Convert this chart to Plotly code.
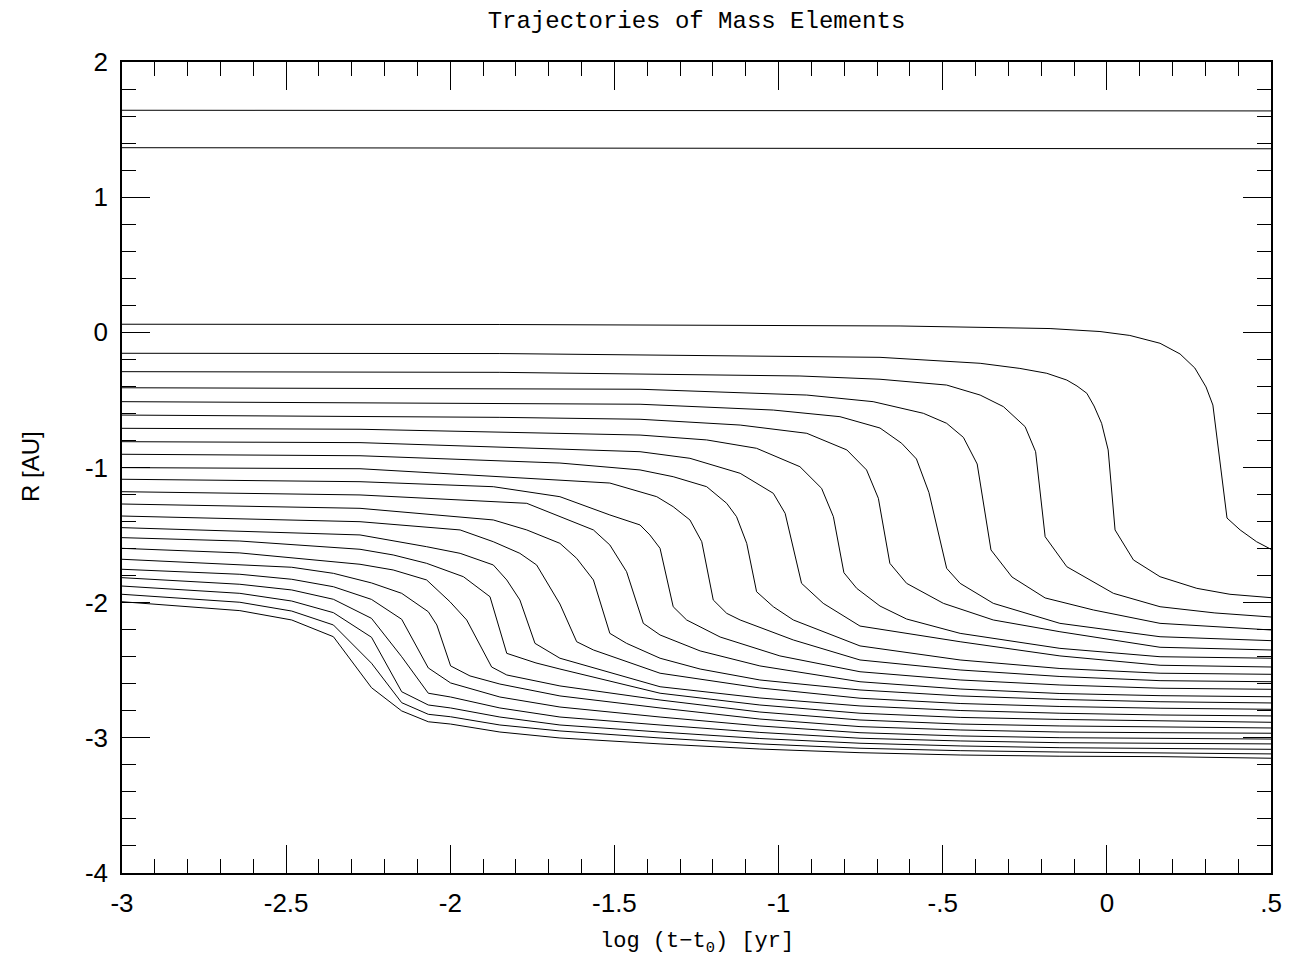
import plotly.graph_objects as go

# ---- horizontal (outer) mass elements ----
L1_t = [-3.0, 0.5]
L1_r = [1.643, 1.638]
L2_t = [-3.0, 0.5]
L2_r = [1.366, 1.358]

# ---- collapsing mass elements (log t, log R) ----
c1_t = [-3, -1.849, -0.63, -0.173, -0.021, 0.070, 0.162, 0.223, 0.268, 0.302, 0.323, 0.366, 0.406, 0.456, 0.5]
c1_r = [0.060, 0.058, 0.047, 0.028, 0.006, -0.023, -0.081, -0.160, -0.264, -0.404, -0.538, -1.374, -1.462, -1.549, -1.605]

c2_t = [-3, -1.849, -0.691, -0.386, -0.265, -0.183, -0.122, -0.091, -0.061, -0.039, -0.016, 0.004, 0.025, 0.081, 0.162, 0.274, 0.375, 0.5]
c2_r = [-0.155, -0.157, -0.185, -0.229, -0.267, -0.303, -0.353, -0.397, -0.451, -0.545, -0.673, -0.870, -1.462, -1.684, -1.808, -1.894, -1.938, -1.963]

c3_t = [-3, -1.849, -0.935, -0.691, -0.488, -0.386, -0.315, -0.249, -0.217, -0.188, -0.122, 0.020, 0.162, 0.329, 0.5]
c3_r = [-0.291, -0.296, -0.323, -0.347, -0.390, -0.464, -0.550, -0.698, -0.883, -1.512, -1.734, -1.931, -2.030, -2.076, -2.106]

c4_t = [-3, -1.849, -1.422, -0.914, -0.712, -0.559, -0.488, -0.437, -0.395, -0.353, -0.289, -0.188, -0.041, 0.162, 0.5]
c4_r = [-0.410, -0.414, -0.421, -0.464, -0.513, -0.599, -0.673, -0.777, -0.974, -1.610, -1.810, -1.965, -2.054, -2.153, -2.202]

c5_t = [-3, -1.849, -1.422, -1.016, -0.813, -0.691, -0.625, -0.580, -0.542, -0.488, -0.447, -0.346, -0.143, 0.162, 0.5]
c5_r = [-0.513, -0.525, -0.532, -0.575, -0.624, -0.708, -0.821, -0.937, -1.185, -1.746, -1.857, -2.005, -2.153, -2.252, -2.281]

c6_t = [-3, -1.849, -1.422, -1.117, -0.914, -0.792, -0.732, -0.696, -0.661, -0.610, -0.498, -0.346, -0.143, 0.162, 0.5]
c6_r = [-0.612, -0.629, -0.643, -0.686, -0.747, -0.870, -1.018, -1.228, -1.709, -1.857, -2.005, -2.128, -2.215, -2.330, -2.350]

c7_t = [-3, -2.275, -1.422, -1.219, -1.067, -0.935, -0.869, -0.833, -0.801, -0.762, -0.691, -0.610, -0.447, -0.143, 0.162, 0.5]
c7_r = [-0.710, -0.717, -0.760, -0.796, -0.858, -0.994, -1.154, -1.364, -1.778, -1.894, -2.025, -2.121, -2.227, -2.338, -2.400, -2.411]

c8_t = [-3, -2.275, -1.422, -1.270, -1.117, -1.016, -0.980, -0.930, -0.864, -0.792, -0.752, -0.447, -0.143, 0.162, 0.5]
c8_r = [-0.809, -0.816, -0.883, -0.932, -1.043, -1.191, -1.339, -1.857, -2.005, -2.116, -2.173, -2.289, -2.394, -2.463, -2.476]

c9_t = [-3, -2.275, -1.666, -1.422, -1.321, -1.219, -1.158, -1.128, -1.097, -1.067, -1.016, -0.955, -0.752, -0.447, -0.143, 0.162, 0.5]
c9_r = [-0.902, -0.913, -0.967, -1.018, -1.068, -1.142, -1.265, -1.364, -1.561, -1.919, -2.030, -2.128, -2.320, -2.424, -2.487, -2.522, -2.530]

c10_t = [-3, -2.275, -1.514, -1.422, -1.371, -1.321, -1.270, -1.234, -1.199, -1.158, -1.117, -0.955, -0.752, -0.447, -0.143, 0.162, 0.5]
c10_r = [-1.001, -1.009, -1.115, -1.179, -1.216, -1.290, -1.388, -1.549, -1.980, -2.079, -2.128, -2.276, -2.424, -2.498, -2.546, -2.577, -2.585]

c11_t = [-3, -2.275, -1.869, -1.666, -1.514, -1.422, -1.392, -1.361, -1.321, -1.280, -1.178, -0.996, -0.752, -0.447, -0.143, 0.162, 0.5]
c11_r = [-1.087, -1.105, -1.142, -1.216, -1.351, -1.425, -1.499, -1.598, -2.030, -2.128, -2.254, -2.394, -2.511, -2.572, -2.609, -2.633, -2.641]

c12_t = [-3, -2.275, -1.767, -1.666, -1.564, -1.514, -1.463, -1.412, -1.361, -1.239, -1.057, -0.752, -0.447, -0.143, 0.162, 0.5]
c12_r = [-1.179, -1.203, -1.265, -1.364, -1.462, -1.573, -1.771, -2.153, -2.239, -2.357, -2.468, -2.585, -2.639, -2.672, -2.688, -2.696]

c13_t = [-3, -2.275, -1.869, -1.767, -1.666, -1.615, -1.564, -1.514, -1.463, -1.361, -1.239, -1.057, -0.752, -0.447, -0.143, 0.162, 0.5]
c13_r = [-1.270, -1.302, -1.388, -1.462, -1.561, -1.672, -1.832, -2.227, -2.301, -2.411, -2.491, -2.572, -2.646, -2.690, -2.716, -2.733, -2.742]

c14_t = [-3, -2.275, -1.970, -1.869, -1.788, -1.737, -1.666, -1.615, -1.564, -1.361, -1.057, -0.752, -0.447, -0.143, 0.162, 0.5]
c14_r = [-1.359, -1.401, -1.462, -1.549, -1.635, -1.721, -2.010, -2.289, -2.350, -2.522, -2.631, -2.707, -2.746, -2.768, -2.781, -2.789]

c15_t = [-3, -2.275, -2.072, -1.970, -1.869, -1.828, -1.788, -1.742, -1.666, -1.361, -1.057, -0.752, -0.447, -0.143, 0.162, 0.5]
c15_r = [-1.445, -1.499, -1.586, -1.635, -1.721, -1.832, -1.980, -2.301, -2.411, -2.622, -2.705, -2.764, -2.798, -2.818, -2.831, -2.838]

c16_t = [-3, -2.641, -2.275, -2.174, -2.072, -1.960, -1.879, -1.828, -1.739, -1.666, -1.361, -1.057, -0.752, -0.447, -0.143, 0.162, 0.5]
c16_r = [-1.519, -1.544, -1.605, -1.647, -1.709, -1.808, -1.956, -2.375, -2.446, -2.491, -2.670, -2.757, -2.818, -2.849, -2.864, -2.873, -2.885]

c17_t = [-3, -2.641, -2.275, -2.174, -2.072, -2.001, -1.950, -1.874, -1.828, -1.666, -1.361, -1.057, -0.752, -0.447, -0.143, 0.162, 0.5]
c17_r = [-1.598, -1.632, -1.716, -1.758, -1.832, -1.993, -2.128, -2.476, -2.535, -2.616, -2.720, -2.809, -2.868, -2.898, -2.912, -2.917, -2.927]

c18_t = [-3, -2.641, -2.483, -2.356, -2.240, -2.148, -2.067, -2.041, -1.999, -1.940, -1.849, -1.666, -1.361, -1.057, -0.752, -0.447, -0.143, 0.162, 0.5]
c18_r = [-1.679, -1.721, -1.738, -1.783, -1.854, -1.931, -2.067, -2.165, -2.468, -2.542, -2.602, -2.690, -2.779, -2.861, -2.917, -2.942, -2.957, -2.962, -2.966]

# innermost elements share the same output times
inner_t = [-3, -2.641, -2.483, -2.356, -2.240, -2.148, -2.067, -1.999, -1.849, -1.666, -1.361, -1.057, -0.752, -0.447, -0.143, 0.162, 0.5]
c19_r = [-1.753, -1.790, -1.827, -1.882, -1.976, -2.123, -2.483, -2.594, -2.698, -2.772, -2.846, -2.912, -2.962, -2.986, -2.999, -3.003, -3.009]
c20_r = [-1.815, -1.864, -1.906, -1.975, -2.116, -2.400, -2.670, -2.698, -2.779, -2.846, -2.905, -2.960, -3.003, -3.023, -3.036, -3.040, -3.045]
c21_r = [-1.877, -1.931, -1.988, -2.074, -2.256, -2.659, -2.757, -2.779, -2.846, -2.905, -2.957, -3.005, -3.040, -3.060, -3.073, -3.077, -3.085]
c22_r = [-1.938, -1.997, -2.062, -2.165, -2.448, -2.740, -2.826, -2.844, -2.905, -2.949, -3.001, -3.045, -3.077, -3.095, -3.105, -3.110, -3.119]
c23_r = [-1.993, -2.059, -2.128, -2.252, -2.629, -2.801, -2.881, -2.898, -2.957, -3.001, -3.045, -3.083, -3.110, -3.127, -3.136, -3.139, -3.151]

# ---- axis tick labels ----
x_tickvals = [-3, -2.5, -2, -1.5, -1, -0.5, 0, 0.5]
x_ticktext = ["-3", "-2.5", "-2", "-1.5", "-1", "-.5", "0", ".5"]
y_tickvals = [-4, -3, -2, -1, 0, 1, 2]
y_ticktext = ["-4", "-3", "-2", "-1", "0", "1", "2"]

series = [
    (L1_t, L1_r), (L2_t, L2_r),
    (c1_t, c1_r), (c2_t, c2_r), (c3_t, c3_r), (c4_t, c4_r), (c5_t, c5_r),
    (c6_t, c6_r), (c7_t, c7_r), (c8_t, c8_r), (c9_t, c9_r), (c10_t, c10_r),
    (c11_t, c11_r), (c12_t, c12_r), (c13_t, c13_r), (c14_t, c14_r),
    (c15_t, c15_r), (c16_t, c16_r), (c17_t, c17_r), (c18_t, c18_r),
    (inner_t, c19_r), (inner_t, c20_r), (inner_t, c21_r), (inner_t, c22_r), (inner_t, c23_r),
]

fig = go.Figure()
for t, r in series:
    fig.add_trace(go.Scatter(x=t, y=r, mode="lines",
                             line=dict(color="black", width=1),
                             hoverinfo="skip", showlegend=False))

tick_font = dict(family="Liberation Sans, Arial, sans-serif", size=26, color="black")
mono_font = "Liberation Mono, DejaVu Sans Mono, monospace"

fig.update_layout(
    width=1298, height=965,
    margin=dict(l=122, r=27, t=62, b=92),
    paper_bgcolor="white", plot_bgcolor="white",
    showlegend=False,
    title=dict(text="Trajectories of Mass Elements",
               font=dict(family=mono_font, size=24, color="black"),
               x=0.5, xanchor="center", xref="paper",
               y=1 - 20 / 965, yref="container", yanchor="middle"),
    annotations=[
        dict(text="log (t\u2212t<sub>0</sub>) [yr]",
             xref="paper", yref="paper", x=0.5, y=-(943 - 873) / 811,
             xanchor="center", yanchor="middle", showarrow=False,
             font=dict(family=mono_font, size=22, color="black")),
        dict(text="R [AU]", xref="paper", yref="paper",
             x=-(122 - 31) / 1149, y=(873 - 467) / 811, textangle=-90,
             xanchor="center", yanchor="middle", showarrow=False,
             font=dict(family="Liberation Sans, Arial, sans-serif", size=24, color="black")),
    ],
)

fig.update_xaxes(
    range=[-3, 0.5], tickmode="array", tickvals=x_tickvals, ticktext=x_ticktext,
    ticks="inside", ticklen=28, tickwidth=1, tickcolor="black",
    ticklabelstandoff=6,
    showline=True, linecolor="black", linewidth=1.5, mirror="ticks",
    showgrid=False, zeroline=False, tickfont=tick_font,
    minor=dict(dtick=0.1, tick0=0, ticks="inside", ticklen=14, tickwidth=1,
               tickcolor="black", showgrid=False),
)
fig.update_yaxes(
    range=[-4, 2], tickmode="array", tickvals=y_tickvals, ticktext=y_ticktext,
    ticks="inside", ticklen=28, tickwidth=1, tickcolor="black",
    ticklabelstandoff=7,
    showline=True, linecolor="black", linewidth=1.5, mirror="ticks",
    showgrid=False, zeroline=False, tickfont=tick_font,
    minor=dict(dtick=0.2, tick0=0, ticks="inside", ticklen=14, tickwidth=1,
               tickcolor="black", showgrid=False),
)

fig.write_html("out.html", config={"displayModeBar": False})
